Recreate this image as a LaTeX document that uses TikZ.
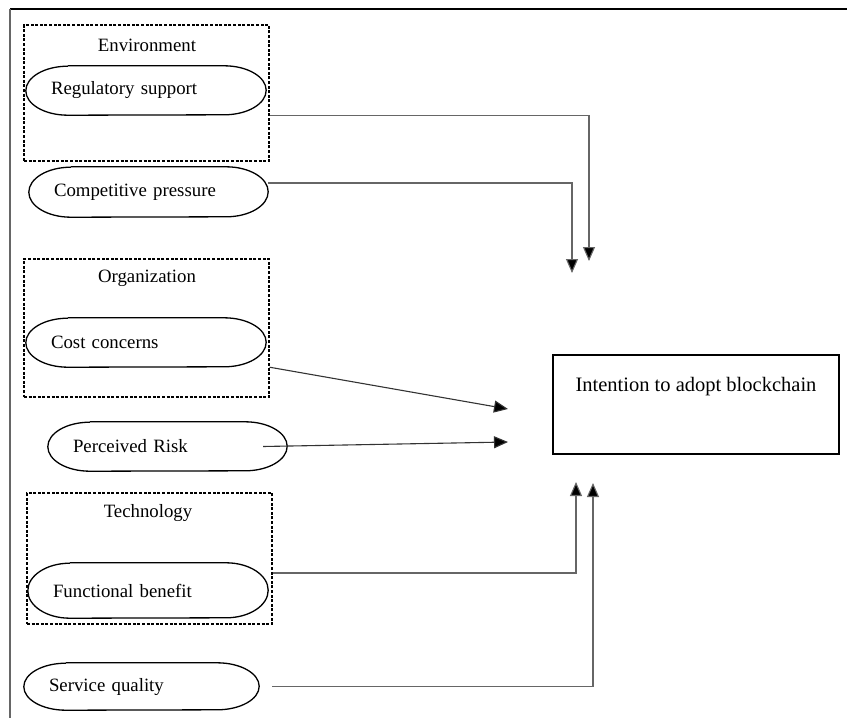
\documentclass[tikz,border=0pt]{standalone}
\usepackage{fontspec}
\setmainfont{Liberation Serif}
\usetikzlibrary{arrows.meta}
\newcommand\ovalpath[2]{%
  \draw[ovalline] ([xshift=42pt]#1.north west) -- ([xshift=-42pt]#1.north east)
    arc[start angle=90,end angle=-90,x radius=42pt,y radius=#2]
    -- ([xshift=42pt]#1.south west)
    arc[start angle=270,end angle=90,x radius=42pt,y radius=#2];}
\begin{document}
\begin{tikzpicture}[x=1pt,y=-1pt,
  every node/.style={font=\fontsize{18.8}{22}\selectfont},
  grp/.style={draw, dash pattern=on 3pt off 1.6pt, line width=1.1pt, inner sep=0pt},
  grplbl/.style={inner sep=0pt},
  oval/.style={inner xsep=25pt, inner ysep=0pt, align=left, anchor=center},
  ovalline/.style={line width=1.3pt},
  conn/.style={draw=black!60, line width=1.1pt, -{Triangle[length=14pt,width=12pt,fill=black]}},
  frame/.style={line width=1.3pt}]
\useasboundingbox (0,0) rectangle (847,718);
% frame
\draw[frame, black] (10,9) -- (847,9);
\draw[frame, black!60] (10,9) -- (10,718);
% groups
\node[grp, minimum width=245pt, minimum height=136pt] (env) at (146.5,93) {};
\node[grplbl] (envlbl) at (147,45) {Environment};
\node[grp, minimum width=245pt, minimum height=138pt] (org) at (146.5,328) {};
\node[grplbl] (orglbl) at (147,278) {Organization};
\node[grp, minimum width=245pt, minimum height=131pt] (tech) at (149.5,558.5) {};
\node[grplbl] (techlbl) at (148,513) {Technology};
% ovals
\node[oval, minimum width=240pt, minimum height=49pt, text width=190pt] (reg) at (146,90.5) {Regulatory support};
\ovalpath{reg}{24.5pt}
\node[oval, minimum width=239pt, minimum height=50pt, text width=189pt] (comp) at (148.5,192) {Competitive pressure};
\ovalpath{comp}{25pt}
\node[oval, minimum width=240pt, minimum height=49pt, text width=190pt] (cost) at (146,342.5) {Cost concerns};
\ovalpath{cost}{24.5pt}
\node[oval, minimum width=239pt, minimum height=49pt, text width=189pt] (risk) at (167.5,446.5) {Perceived Risk};
\ovalpath{risk}{24.5pt}
\node[oval, minimum width=240pt, minimum height=55pt, text width=190pt] (func) at (148,590.5) {Functional benefit};
\ovalpath{func}{27.5pt}
\node[oval, minimum width=235pt, minimum height=47pt, text width=185pt] (serv) at (141.5,686.5) {Service quality};
\ovalpath{serv}{23.5pt}
% target
\node[draw, line width=1.3pt, minimum width=286pt, minimum height=99pt, inner sep=0pt] (intent) at (696,404.5) {};
\node[inner sep=0pt, font=\fontsize{20.5}{24}\selectfont] (intentlbl) at (696,387) {Intention to adopt blockchain};
% arrow ends
\coordinate (t1) at (589,261);
\coordinate (t2) at (572,273);
\coordinate (t3) at (508,409);
\coordinate (t4) at (508,442);
\coordinate (t5) at (576,482);
\coordinate (t6) at (593,483);
\coordinate (f1) at ([yshift=17.5pt]func.east);
% connectors
\draw[conn] (env.east |- reg.south) -| (t1);
\draw[conn] ([yshift=9pt]comp.east) -| (t2);
\draw[conn, draw=black!80] (org.east |- cost.south) -- (t3);
\draw[conn, draw=black!80] ([xshift=-24pt]risk.east) -- (t4);
\draw[conn] (f1 -| tech.east) -| (t5);
\draw[conn] ([xshift=13pt]serv.east) -| (t6);
\end{tikzpicture}
\end{document}
